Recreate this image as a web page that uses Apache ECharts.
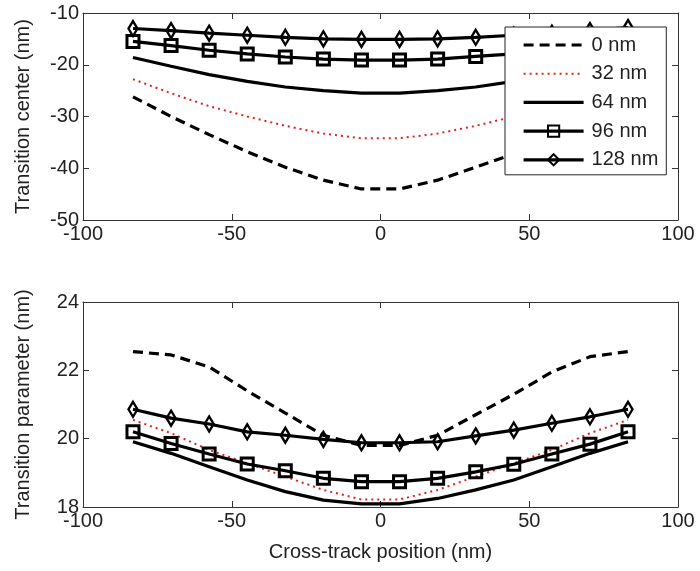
<!DOCTYPE html>
<html>
<head>
<meta charset="utf-8">
<script src="https://cdn.jsdelivr.net/npm/echarts@6/dist/echarts.min.js"></script>
<style>
  html, body { margin: 0; padding: 0; background: #fff; }
  #chart { width: 700px; height: 571px; }
</style>
</head>
<body>
<div id="chart"></div>
<script>
// Cross-track sample positions (nm)
const positions = [-83.2, -70.4, -57.6, -44.8, -32, -19.2, -6.4, 6.4, 19.2, 32, 44.8, 57.6, 70.4, 83.2];
const seriesNames = ['0 nm', '32 nm', '64 nm', '96 nm', '128 nm'];

// Transition center (nm), one array per offset
const center0 = [-26.2, -30.0, -33.5, -36.8, -39.8, -42.3, -44.0, -44.0, -42.3, -39.8, -37.2, -33.5, -30.0, -26.2];
const center32 = [-22.8, -25.5, -28.0, -30.0, -31.8, -33.3, -34.2, -34.2, -33.3, -31.8, -30.0, -28.0, -25.5, -22.8];
const center64 = [-18.6, -20.3, -21.9, -23.2, -24.3, -25.0, -25.5, -25.5, -25.0, -24.3, -23.2, -21.9, -20.3, -18.6];
const center96 = [-15.5, -16.3, -17.2, -17.9, -18.5, -18.9, -19.1, -19.1, -18.9, -18.4, -17.9, -17.2, -16.3, -15.5];
const center128 = [-13.0, -13.4, -13.9, -14.3, -14.7, -15.0, -15.1, -15.1, -15.0, -14.7, -14.3, -13.9, -13.4, -12.8];

// Transition parameter (nm), one array per offset
const param0 = [22.55, 22.45, 22.1, 21.4, 20.75, 20.1, 19.8, 19.8, 20.1, 20.7, 21.3, 21.95, 22.4, 22.55];
const param32 = [20.55, 20.16, 19.67, 19.28, 18.89, 18.5, 18.22, 18.22, 18.5, 18.89, 19.28, 19.67, 20.16, 20.55];
const param64 = [19.91, 19.57, 19.18, 18.79, 18.45, 18.2, 18.09, 18.09, 18.25, 18.5, 18.79, 19.18, 19.57, 19.91];
const param96 = [20.2, 19.86, 19.55, 19.26, 19.06, 18.84, 18.74, 18.74, 18.84, 19.03, 19.25, 19.55, 19.84, 20.2];
const param128 = [20.86, 20.6, 20.43, 20.2, 20.1, 19.98, 19.88, 19.88, 19.91, 20.08, 20.25, 20.45, 20.64, 20.86];

// Axis ranges and tick steps
const xRange = [-100, 100, 50];
const centerRange = [-50, -10, 10];
const paramRange = [18, 24, 2];

const FONT = 'Liberation Sans, Arial, sans-serif';
const FS = 20;
const pairs = v => positions.map((x, i) => [x, v[i]]);
const NOFILL = 'rgba(255,255,255,0)';

// Line/marker look of each offset; plain lines get an invisible legend dot
const styles = [
  { lineStyle: { color: '#000', width: 3.2, type: [10, 6] }, symbol: 'none',
    itemStyle: { color: NOFILL } },
  { lineStyle: { color: '#e02020', width: 2, type: [2, 4] }, symbol: 'none',
    itemStyle: { color: NOFILL } },
  { lineStyle: { color: '#000', width: 3.2, type: 'solid' }, symbol: 'none',
    itemStyle: { color: NOFILL } },
  { lineStyle: { color: '#000', width: 3.2, type: 'solid' }, symbol: 'rect', symbolSize: 12,
    itemStyle: { color: NOFILL, borderColor: '#000', borderWidth: 3 } },
  { lineStyle: { color: '#000', width: 3.2, type: 'solid' }, symbol: 'diamond', symbolSize: [9, 15],
    itemStyle: { color: NOFILL, borderColor: '#000', borderWidth: 2.5 } }
];

function makeSeries(arrs, axisIndex) {
  return arrs.map((arr, k) => Object.assign({
    name: seriesNames[k],
    type: 'line',
    xAxisIndex: axisIndex,
    yAxisIndex: axisIndex,
    data: pairs(arr),
    showSymbol: styles[k].symbol !== 'none',
    z: 2,
    animation: false,
    emphasis: { disabled: true }
  }, styles[k]));
}

const tickStyle = { show: true, inside: true, length: 6, lineStyle: { color: '#333' } };
const lineStyleAxis = { show: true, onZero: false, lineStyle: { color: '#333', width: 1 } };

function xAxes(gridIndex, withName) {
  const base = {
    type: 'value', gridIndex, min: xRange[0], max: xRange[1], interval: xRange[2],
    splitLine: { show: false }, axisLine: lineStyleAxis, axisTick: tickStyle
  };
  return [
    Object.assign({}, base, {
      position: 'bottom',
      axisLabel: { color: '#222', fontSize: FS, fontFamily: FONT, margin: 4 },
      name: withName ? 'Cross-track position (nm)' : '',
      nameLocation: 'middle', nameGap: 35,
      nameTextStyle: { color: '#222', fontSize: FS, fontFamily: FONT }
    }),
    Object.assign({}, base, { position: 'top', axisLabel: { show: false } })
  ];
}

function yAxes(gridIndex, range, title) {
  const base = {
    type: 'value', gridIndex, min: range[0], max: range[1], interval: range[2],
    splitLine: { show: false }, axisLine: lineStyleAxis, axisTick: tickStyle
  };
  return [
    Object.assign({}, base, {
      position: 'left',
      axisLabel: { color: '#222', fontSize: FS, fontFamily: FONT, margin: 4 },
      name: title, nameLocation: 'middle', nameGap: 50,
      nameTextStyle: { color: '#222', fontSize: FS, fontFamily: FONT }
    }),
    Object.assign({}, base, { position: 'right', axisLabel: { show: false } })
  ];
}

const chart = echarts.init(document.getElementById('chart'), null, { renderer: 'canvas' });

const xa = xAxes(0, false).concat(xAxes(1, true));
const ya = yAxes(0, centerRange, 'Transition center (nm)').concat(yAxes(1, paramRange, 'Transition parameter (nm)'));

// Grid 0 uses x/y axis 0, grid 1 uses x/y axis 2 (1 and 3 are the mirrored frame sides)
const topSeries = makeSeries([center0, center32, center64, center96, center128], 0);
const bottomSeries = makeSeries([param0, param32, param64, param96, param128], 2);

// Legend entries keep each series' own line width
const legendItems = seriesNames.map((name, k) => ({
  name,
  lineStyle: { width: styles[k].lineStyle.width }
}));

chart.setOption({
  backgroundColor: '#fff',
  animation: false,
  grid: [
    { left: 83, top: 13, width: 595, height: 207 },
    { left: 83, top: 302, width: 595, height: 205 }
  ],
  xAxis: xa,
  yAxis: ya,
  legend: {
    data: legendItems,
    orient: 'vertical',
    left: 505, top: 27,
    z: 20,
    padding: [8, 8, 5, 17],
    itemWidth: 60, itemHeight: 14, itemGap: 8.7,
    backgroundColor: '#fff',
    borderColor: '#222', borderWidth: 1,
    selectedMode: false,
    textStyle: { color: '#222', fontSize: FS, fontFamily: FONT, padding: [0, 0, 0, 3] }
  },
  series: topSeries.concat(bottomSeries)
});
</script>
</body>
</html>
